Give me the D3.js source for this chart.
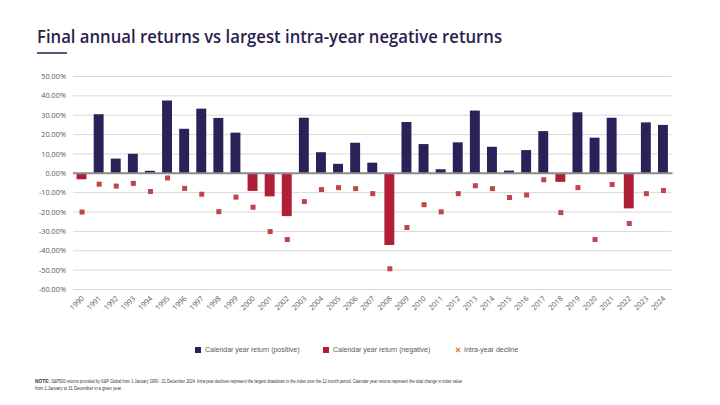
<!DOCTYPE html>
<html>
<head>
<meta charset="utf-8">
<script src="https://cdn.jsdelivr.net/npm/d3@7"></script>
<style>
  body { margin: 0; background: #fff; }
  svg { display: block; }
</style>
</head>
<body>
<svg width="720" height="405"></svg>
<script>
// S&P 500 calendar year returns and intra-year declines (%)
const years = d3.range(1990, 2025).map(String);
const annualReturn = [
  -3.1, 30.5, 7.6, 10.1, 1.3, 37.6, 23.0, 33.4, 28.6, 21.0,
  -9.1, -11.9, -22.1, 28.7, 10.9, 4.9, 15.8, 5.5, -37.0, 26.5,
  15.1, 2.1, 16.0, 32.4, 13.7, 1.4, 12.0, 21.8, -4.4, 31.5,
  18.4, 28.7, -18.1, 26.3, 25.0
];
const intraYearDecline = [
  -20.0, -5.6, -6.6, -5.2, -9.4, -2.4, -7.8, -10.8, -19.8, -12.3,
  -17.5, -30.1, -34.2, -14.6, -8.4, -7.4, -7.9, -10.5, -49.3, -28.0,
  -16.2, -19.9, -10.5, -6.4, -7.9, -12.5, -11.2, -3.3, -20.3, -7.4,
  -34.2, -5.8, -25.9, -10.5, -8.9
];
const yTicks = [50, 40, 30, 20, 10, 0, -10, -20, -30, -40, -50, -60];
const legendItems = [
  { label: "Calendar year return (positive)", type: "pos" },
  { label: "Calendar year return (negative)", type: "neg" },
  { label: "Intra-year decline", type: "cross" }
];

const colPos = "#2c2059";
const colNeg = "#b01e37";
const colMark = "#c0434e";
const textCol = "#595959";
const titleCol = "#2b1d4e";

const data = years.map((y, i) => ({ year: y, ret: annualReturn[i], dd: intraYearDecline[i] }));

const svg = d3.select("svg");

// title
svg.append("text")
  .attr("x", 37).attr("y", 43)
  .attr("fill", titleCol)
  .attr("textLength", 465)
  .attr("lengthAdjust", "spacingAndGlyphs")
  .style("font", "600 17.5px 'Open Sans', sans-serif")
  .text("Final annual returns vs largest intra-year negative returns");
svg.append("line")
  .attr("x1", 37).attr("x2", 67).attr("y1", 53).attr("y2", 53)
  .attr("stroke", titleCol).attr("stroke-width", 1.5);

const x = d3.scaleBand().domain(years).range([73, 671.5]).paddingInner(0.42).paddingOuter(0.21);
const y = d3.scaleLinear().domain([-60, 50]).range([289.5, 76.5]);

// gridlines
svg.append("g")
  .selectAll("line")
  .data(yTicks)
  .join("line")
  .attr("x1", 73).attr("x2", 671.5)
  .attr("y1", (d) => y(d)).attr("y2", (d) => y(d))
  .attr("stroke", "#d9d9d9").attr("stroke-width", 1);

// y labels
svg.append("g")
  .selectAll("text")
  .data(yTicks)
  .join("text")
  .attr("x", 66).attr("y", (d) => y(d))
  .attr("dy", "0.35em")
  .attr("text-anchor", "end")
  .attr("fill", textCol)
  .style("font", "7.3px 'Open Sans', sans-serif")
  .text((d) => (d < 0 ? "-" : "") + Math.abs(d).toFixed(2) + "%");

// bars
svg.append("g")
  .selectAll("rect")
  .data(data)
  .join("rect")
  .attr("x", (d) => x(d.year))
  .attr("width", x.bandwidth())
  .attr("y", (d) => y(Math.max(0, d.ret)))
  .attr("height", (d) => Math.abs(y(d.ret) - y(0)))
  .attr("fill", (d) => (d.ret >= 0 ? colPos : colNeg));

// zero line
svg.append("line")
  .attr("x1", 73).attr("x2", 672.5)
  .attr("y1", y(0)).attr("y2", y(0))
  .attr("stroke", "#8c8c8c").attr("stroke-width", 2);

// intra-year decline markers
const ms = 5;
svg.append("g")
  .selectAll("rect")
  .data(data)
  .join("rect")
  .attr("x", (d) => x(d.year) + x.bandwidth() / 2 - ms / 2 + 0.5)
  .attr("y", (d) => y(d.dd) - ms / 2)
  .attr("width", ms).attr("height", ms)
  .attr("fill", colMark);

// x labels
svg.append("g")
  .selectAll("text")
  .data(years)
  .join("text")
  .attr("text-anchor", "end")
  .attr("transform", (d) => `translate(${x(d) + x.bandwidth() / 2 + 3},${299}) rotate(-45)`)
  .attr("fill", textCol)
  .style("font", "7.3px 'Open Sans', sans-serif")
  .text((d) => d);

// legend
const legendX = [195, 323, 455];
const lg = svg.append("g")
  .selectAll("g")
  .data(legendItems)
  .join("g")
  .attr("transform", (d, i) => `translate(${legendX[i]},350)`);
lg.filter((d) => d.type !== "cross")
  .append("rect")
  .attr("x", 0).attr("y", -3).attr("width", 6).attr("height", 6)
  .attr("fill", (d) => (d.type === "pos" ? colPos : colNeg));
lg.filter((d) => d.type === "cross")
  .append("path")
  .attr("d", "M0,-2 L4,2 M0,2 L4,-2")
  .attr("stroke", "#e07b39").attr("stroke-width", 1.1)
  .attr("transform", "translate(1,0)");
lg.append("text")
  .attr("x", (d) => (d.type === "cross" ? 9 : 10))
  .attr("dy", "0.35em")
  .attr("fill", textCol)
  .style("font", "7px 'Liberation Sans', Arial, sans-serif")
  .text((d) => d.label);

// note
const noteFont = "4.8px 'Liberation Sans', Arial, sans-serif";
const noteLabel = svg.append("text")
  .attr("x", 35).attr("y", 383)
  .attr("fill", "#333")
  .style("font", noteFont)
  .style("font-weight", "700")
  .text("NOTE:");
const restX = 35 + noteLabel.node().getComputedTextLength() + 1.2;
svg.append("text")
  .attr("x", restX).attr("y", 383)
  .attr("fill", "#333")
  .attr("textLength", 462 - restX)
  .attr("lengthAdjust", "spacingAndGlyphs")
  .style("font", noteFont)
  .text("S&P500 returns provided by S&P Global from 1 January 1990 - 31 December 2024. Intra-year declines represent the largest drawdown in the index over the 12 month period. Calendar year returns represent the total change in index value");
svg.append("text")
  .attr("x", 35).attr("y", 389.5)
  .attr("fill", "#333")
  .attr("textLength", 87)
  .attr("lengthAdjust", "spacingAndGlyphs")
  .style("font", noteFont)
  .text("from 1 January to 31 December in a given year.");
</script>
</body>
</html>
